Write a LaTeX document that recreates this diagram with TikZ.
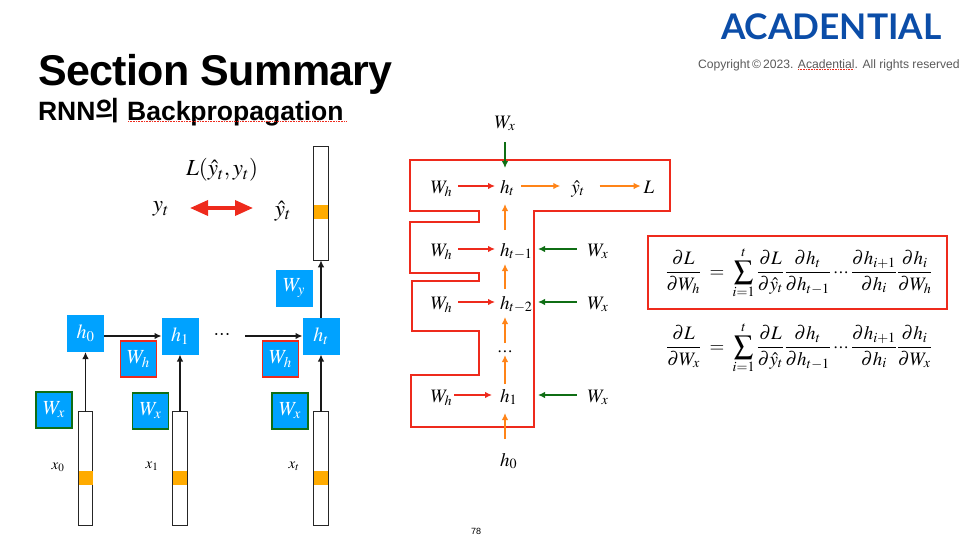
\documentclass[tikz,border=0pt]{standalone}
\usepackage{amsmath}
\usepackage{mathptmx}
\usepackage[no-math]{fontspec}
\setmainfont{Liberation Sans}
\newfontfamily\cjkf{Noto Sans CJK KR}[BoldFont=* Bold]
\newfontfamily\logof{Lato}
\usetikzlibrary{arrows.meta}
\definecolor{bluebox}{HTML}{00A2FF}
\definecolor{redl}{HTML}{EE2A1C}
\definecolor{greenl}{HTML}{0F6E14}
\definecolor{orangel}{HTML}{FF8418}
\definecolor{orangec}{HTML}{FFAB00}
\definecolor{logoc}{HTML}{0B4DA8}
\newcommand{\fs}[1]{\fontsize{#1}{#1}\selectfont}
\newcommand{\tdots}{\mathinner{{\cdot}{\cdot}{\cdot}}}
\tikzset{
 x=1pt,y=-1pt,
 bluenode/.style={fill=bluebox,text=white,minimum size=37pt,inner sep=0pt,outer sep=0pt,font=\fs{20}},
 hnode/.style={bluenode},
 wred/.style={bluenode,draw=redl,line width=1.6pt,minimum size=36pt},
 wgreen/.style={bluenode,draw=greenl,line width=1.6pt,minimum size=36pt},
 bar/.style={draw=black!85,fill=white,line width=0.8pt,minimum width=14.5pt,minimum height=113.5pt,inner sep=0pt,outer sep=0pt},
 cell/.style={fill=orangec,minimum width=14pt,minimum height=14pt,inner sep=0pt},
 conn/.style={draw=black!90,line width=1.3pt,-{Latex[length=7pt,width=6.5pt]}},
 lab/.style={inner sep=0pt,outer sep=0pt,text height=15pt,text depth=1pt,font=\fs{19},align=center},
 hlab/.style={lab,text width=10pt,align=left},
 rar/.style={draw=redl,line width=1.3pt,-{Latex[length=7pt,width=6.5pt]}},
 oar/.style={draw=orangel,line width=1.3pt,-{Latex[length=7pt,width=6.5pt]}},
 gar/.style={draw=greenl,line width=1.3pt,-{Latex[length=7pt,width=6.5pt]}},
 outline/.style={draw=redl,line width=1.6pt},
 squig/.style={draw=redl,line width=0.6pt,densely dotted},
 txt/.style={inner sep=0pt,outer sep=0pt,anchor=base west},
}
\begin{document}
\begin{tikzpicture}
\useasboundingbox (0,0) rectangle (960,546);
% header
\node[txt,font=\fs{43}\bfseries] (title) at (38,85) {\addfontfeature{LetterSpace=-1.5}Section Summary};
\node[txt,font=\fs{26.5}\bfseries] (sub) at (38,120) {RNN{\cjkf 의} Backpropagation};
\draw[squig] (128,121.5) -- (347,121.5);
\node[txt,font=\logof\fs{35.3}\bfseries,text=logoc] (logo) at (721,39) {ACADENTIAL};
\node[txt,font=\fs{12.15},text=black!65] (copy) at (698,68) {Copyright\,©\,2023. Acadential. All rights reserved};
\draw[squig] (798,69.5) -- (854,69.5);
\node[font=\fs{9}] (page) at (476,531) {78};
% left: bars
\node[bar] (b0) at (85.5,468.5) {};
\node[cell] at (85.5,478) {};
\node[bar] (b1) at (180,468.5) {};
\node[cell] at (180,478) {};
\node[bar] (bt) at (321,468.5) {};
\node[cell] at (321,478) {};
\node[bar] (top) at (321,203.5) {};
\node[cell] at (321,212) {};
\node[hnode] (h0) at (85.5,333.5) {$h_0$};
\node[hnode] (h1) at (180,336) {$h_1$};
\node[hnode] (ht) at (321,336) {$h_t$};
\node[bluenode] (wy) at (294,288.5) {$W_y$};
\node[wred] (wh1) at (138.5,359) {$W_h$};
\node[wred] (wh2) at (280.5,359) {$W_h$};
\node[wgreen] (wx0) at (54,410) {$W_x$};
\node[wgreen] (wx1) at (150.5,411) {$W_x$};
\node[wgreen] (wx2) at (290,411) {$W_x$};
\coordinate (dotsend) at (245,336);
\draw[conn] (b0.north) -- (h0.south);
\draw[conn] (b1.north) -- (h1.south);
\draw[conn] (bt.north) -- (ht.south);
\draw[conn] (h0.east |- h1.west) -- (h1.west);
\draw[conn] (dotsend) -- (ht.west);
\draw[conn] (ht.north) -- (top.south);
\node[font=\fs{20}] (ld) at (222,335) {$\tdots$};
\node[font=\fs{23}] (loss) at (222,170) {$L(\hat{y}_t,y_t)$};
\node[font=\fs{23}] (yt) at (161,209) {$y_t$};
\node[font=\fs{23}] (yh) at (283,211) {$\hat{y}_t$};
\coordinate (rl) at (190,208);
\coordinate (rr) at (253,208);
\draw[draw=redl,line width=3.5pt,{Triangle[length=18pt,width=15pt]}-{Triangle[length=18pt,width=15pt]}] (rl) -- (rr);
\node[font=\fs{15}] (x0) at (58,467) {$x_0$};
\node[font=\fs{15}] (x1) at (152,466) {$x_1$};
\node[font=\fs{15}] (xt) at (294,466) {$x_t$};
% right: outline
\draw[outline] (410,160) -- (670,160) -- (670,211) -- (534,211) -- (534,427) -- (411,427) -- (411,375) -- (479,375) -- (479,331) -- (412,331) -- (412,281) -- (479,281) -- (479,273) -- (410,273) -- (410,222) -- (479,222) -- (479,211) -- (410,211) -- cycle;
% right: nodes
\node[lab] (rwx) at (505,121) {$W_x$};
\node[lab] (wha) at (441.5,186) {$W_h$};
\node[hlab] (rht) at (505,186) {$h_t$};
\node[lab] (ry) at (578,186) {$\hat{y}_t$};
\node[lab] (rL) at (649,186) {$L$};
\node[lab] (whb) at (441.5,249) {$W_h$};
\node[hlab] (rh1) at (505,249) {\rlap{$h_{t-1}$}};
\node[lab] (wxb) at (598,249) {$W_x$};
\node[lab] (whc) at (441.5,302) {$W_h$};
\node[hlab] (rh2) at (505,302) {\rlap{$h_{t-2}$}};
\node[lab] (wxc) at (598,302) {$W_x$};
\node[lab] (rd) at (505,349) {$\tdots$};
\node[lab] (whd) at (441.5,395) {$W_h$};
\node[hlab] (rh3) at (505,395) {$h_1$};
\node[lab] (wxd) at (598,395) {$W_x$};
\node[hlab] (rh0) at (505,459) {$h_0$};
% right: connectors
\draw[gar,shorten <=13pt,shorten >=10pt] (rwx.south) -- (rht.north);
\draw[rar,shorten <=6pt,shorten >=5pt] (wha) -- (rht.west);
\draw[oar,shorten <=11pt,shorten >=11pt] (rht.east) -- (ry);
\draw[oar,shorten <=15pt,shorten >=3pt] (ry) -- (rL);
\draw[oar,shorten <=11pt,shorten >=10pt] (rh1.north) -- (rht.south);
\draw[rar,shorten <=6pt,shorten >=5pt] (whb) -- (rh1.west);
\draw[gar,shorten <=11pt,shorten >=28pt] (wxb) -- (rh1.east);
\draw[oar,shorten <=5pt,shorten >=7pt] (rh2.north) -- (rh1.south);
\draw[rar,shorten <=6pt,shorten >=5pt] (whc) -- (rh2.west);
\draw[gar,shorten <=11pt,shorten >=28pt] (wxc) -- (rh2.east);
\draw[oar,shorten <=-2pt,shorten >=7pt] (rd.north) -- (rh2.south);
\draw[oar,shorten <=3pt,shorten >=-2pt] (rh3.north) -- (rd.south);
\draw[rar,shorten <=2pt,shorten >=8pt] (whd) -- (rh3.west);
\draw[gar,shorten <=11pt,shorten >=28pt] (wxd) -- (rh3.east);
\draw[oar,shorten <=12pt,shorten >=10pt] (rh0.north) -- (rh3.south);
% equations
\draw[outline] (648,236) rectangle (947,309);
\node[font=\fs{19},inner sep=0pt] (eq1) at (799,273) {$\displaystyle \frac{\partial L}{\partial W_h}\;=\;\sum_{i=1}^{t}\frac{\partial L}{\partial\hat{y}_t}\frac{\partial h_t}{\partial h_{t-1}}\tdots\frac{\partial h_{i+1}}{\partial h_i}\frac{\partial h_i}{\partial W_h}$};
\node[font=\fs{19},inner sep=0pt] (eq2) at (799,348) {$\displaystyle \frac{\partial L}{\partial W_x}\;=\;\sum_{i=1}^{t}\frac{\partial L}{\partial\hat{y}_t}\frac{\partial h_t}{\partial h_{t-1}}\tdots\frac{\partial h_{i+1}}{\partial h_i}\frac{\partial h_i}{\partial W_x}$};
\end{tikzpicture}
\end{document}
